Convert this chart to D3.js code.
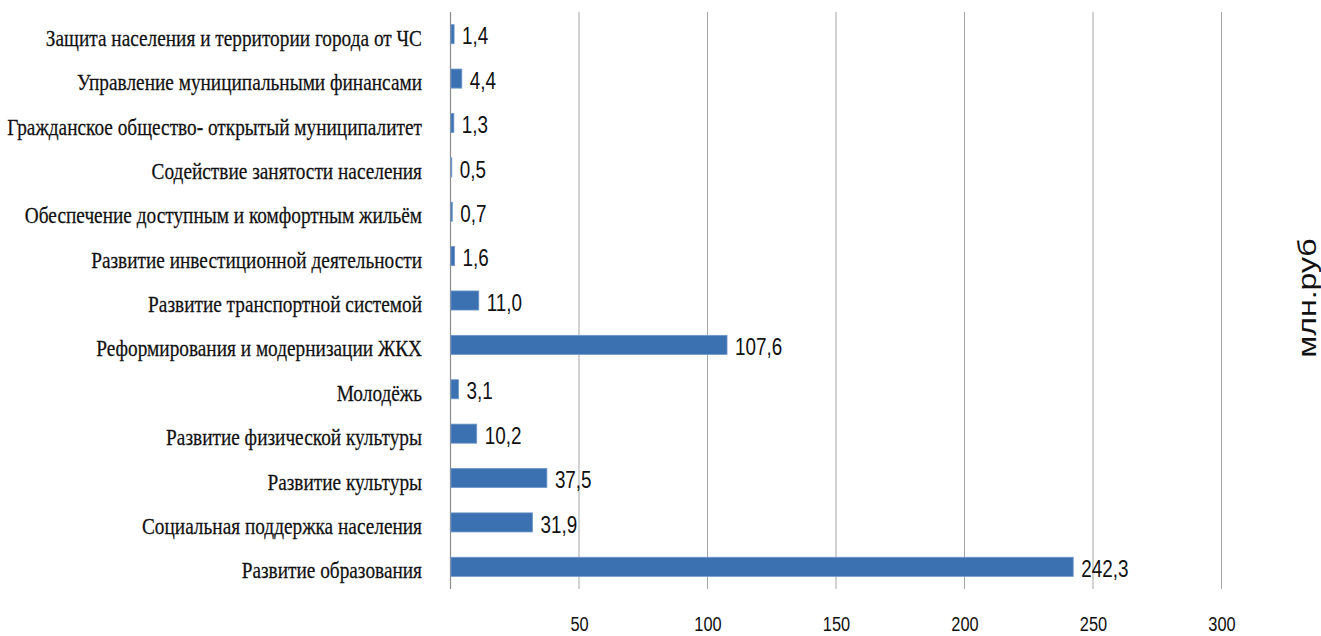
<!DOCTYPE html>
<html><head><meta charset="utf-8">
<script src="https://cdn.jsdelivr.net/npm/d3@7"></script>
<style>body{margin:0;background:#fff;}svg{display:block;}</style>
</head><body>
<svg id="c" width="1321" height="636"></svg>
<script>
const categories = [
  "Защита населения и территории города от ЧС",
  "Управление муниципальными финансами",
  "Гражданское общество- открытый муниципалитет",
  "Содействие занятости населения",
  "Обеспечение доступным и комфортным жильём",
  "Развитие инвестиционной деятельности",
  "Развитие транспортной системой",
  "Реформирования и модернизации ЖКХ",
  "Молодёжь",
  "Развитие физической культуры",
  "Развитие культуры",
  "Социальная поддержка населения",
  "Развитие образования"
];
const values = [1.4, 4.4, 1.3, 0.5, 0.7, 1.6, 11.0, 107.6, 3.1, 10.2, 37.5, 31.9, 242.3];
const tickValues = [50, 100, 150, 200, 250, 300];
const unitLabel = "млн.руб";

const svg = d3.select("#c");
const x = d3.scaleLinear().domain([0, 300]).range([450.5, 1221.5]);
const y = d3.scaleBand().domain(categories).range([12, 589]).paddingInner(0.57).paddingOuter(0.285);

// gridlines
svg.append("g").selectAll("line").data(tickValues).join("line")
  .attr("x1", d => x(d)).attr("x2", d => x(d))
  .attr("y1", 12).attr("y2", 589)
  .attr("stroke", "#a6a6a6").attr("stroke-width", 1);
// zero axis
svg.append("line").attr("x1", x(0)).attr("x2", x(0)).attr("y1", 12).attr("y2", 589)
  .attr("stroke", "#8c8c8c").attr("stroke-width", 1.2);

// tick labels
const xAxis = d3.axisBottom(x).tickValues(tickValues).tickSize(0).tickFormat(d3.format("d"));
const gx = svg.append("g").attr("transform", "translate(0,610)").call(xAxis);
gx.select(".domain").remove();
gx.selectAll("text")
  .attr("y", 0).attr("dy", null)
  .attr("font-family", "'Liberation Sans', Arial, sans-serif")
  .attr("font-size", 21).attr("fill", "#111")
  .attr("dominant-baseline", "central")
  .attr("transform", "translate(0,14) scale(0.78,1)");

// bars
svg.append("g").selectAll("rect").data(values).join("rect")
  .attr("x", x(0) + 0.5)
  .attr("y", (d, i) => y(categories[i]))
  .attr("width", d => Math.max(0, x(d) - x(0) - 0.5))
  .attr("height", y.bandwidth())
  .attr("fill", "#3b71b1").attr("stroke", "#6f97c9").attr("stroke-width", 0.8);

// value labels
svg.append("g").selectAll("text").data(values).join("text")
  .attr("transform", (d, i) => `translate(${x(d) + 8},${y(categories[i]) + y.bandwidth()/2 + 2}) scale(0.82,1)`)
  .attr("font-family", "'Liberation Sans', Arial, sans-serif")
  .attr("font-size", 23).attr("fill", "#111")
  .attr("dominant-baseline", "central")
  .text(d => d3.format(".1f")(d).replace(".", ","));

// category labels
svg.append("g").selectAll("text").data(categories).join("text")
  .attr("transform", d => `translate(422,${y(d) + y.bandwidth()/2 + 4}) scale(0.84,1)`)
  .attr("text-anchor", "end")
  .attr("font-family", "'Liberation Serif', 'Times New Roman', serif")
  .attr("font-size", 23).attr("fill", "#111")
  .attr("stroke", "#111").attr("stroke-width", 0.25)
  .attr("dominant-baseline", "central")
  .text(d => d);

// unit label
svg.append("text")
  .attr("transform", "translate(1307,298) rotate(-90) scale(1,0.8)")
  .attr("text-anchor", "middle")
  .attr("dominant-baseline", "central")
  .attr("font-family", "'Liberation Sans', Arial, sans-serif")
  .attr("font-size", 32).attr("fill", "#111")
  .text(unitLabel);
</script>
</body></html>
